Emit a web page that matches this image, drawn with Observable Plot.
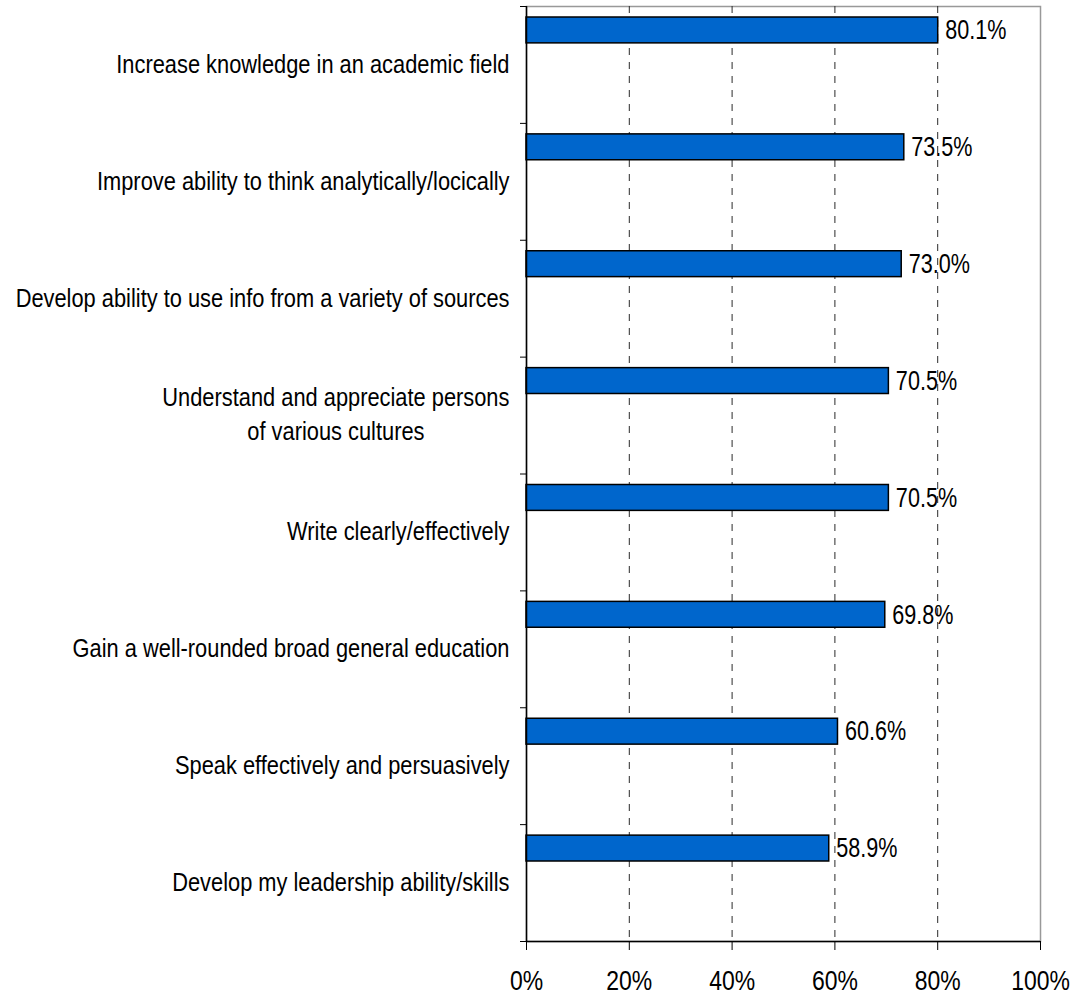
<!DOCTYPE html>
<html><head><meta charset="utf-8">
<script src="https://cdn.jsdelivr.net/npm/d3@7"></script>
<script src="https://cdn.jsdelivr.net/npm/@observablehq/plot@0.6"></script>
<style>body{margin:0;background:#fff}</style>
</head><body><div id="chart"></div>
<script>
const categories = [
  "Increase knowledge in an academic field",
  "Improve ability to think analytically/locically",
  "Develop ability to use info from a variety of sources",
  "Understand and appreciate persons\nof various cultures",
  "Write clearly/effectively",
  "Gain a well-rounded broad general education",
  "Speak effectively and persuasively",
  "Develop my leadership ability/skills"
];
const values = [80.1, 73.5, 73.0, 70.5, 70.5, 69.8, 60.6, 58.9];
const xTicks = [0, 20, 40, 60, 80, 100];
const gridTicks = [20, 40, 60, 80];

const data = categories.map((c, i) => ({category: c, value: values[i], i}));
const n = categories.length;
const font = "'Liberation Sans',Arial,sans-serif";

const chart = Plot.plot({
  width: 1074, height: 996,
  marginLeft: 526, marginRight: 34, marginTop: 6, marginBottom: 55,
  style: {fontFamily: font, background: "#fff", color: "#000"},
  x: {domain: [0, 100], label: null},
  y: {domain: [0, n], reverse: true, label: null},
  marks: [
    Plot.frame({stroke: "#999", strokeWidth: 1.5}),
    Plot.ruleX(gridTicks, {stroke: "#2a2a2a", strokeDasharray: "7,7", strokeWidth: 1}),
    Plot.rectX(data, {x1: 0, x2: "value", y1: "i", y2: d => d.i + 1, insetTop: 11, insetBottom: 80,
      fill: "#0066cc", stroke: "#000", strokeWidth: 1.5}),
    Plot.ruleX([0], {stroke: "#000", strokeWidth: 1.5}),
    Plot.ruleY([n], {stroke: "#000", strokeWidth: 1.5}),
    Plot.axisX({ticks: xTicks, tickFormat: d => d + "%", tickSize: 9, tickPadding: 20, fontSize: 28,
      stroke: "#000"}),
    Plot.axisY({ticks: d3.range(0, n + 1), tickFormat: () => "", tickSize: 6, stroke: "#000"}),
    Plot.text(data, {x: 0, y: d => d.i + 0.5, text: "category", textAnchor: "end", dx: -17, dy: -3,
      fontSize: 26, lineHeight: 1.3}),
    Plot.text(data, {x: "value", y: "i", text: d => d.value.toFixed(1) + "%", textAnchor: "start",
      dx: 7, dy: 24, fontSize: 27})
  ]
});
document.getElementById("chart").append(chart);

// Condense text horizontally (the reference uses a narrow face); center multi-line labels in their block
function condense(elements, s) {
  elements.forEach(el => {
    const tr = el.getAttribute("transform") || "";
    const tspans = el.querySelectorAll("tspan");
    let extra = "";
    if (tspans.length > 1) {
      let W = 0;
      tspans.forEach(t => { W = Math.max(W, t.getComputedTextLength()); });
      el.setAttribute("text-anchor", "middle");
      extra = ` translate(${-W / 2},0)`;
    }
    el.setAttribute("transform", `${tr} scale(${s},1)${extra}`);
  });
}
const textGroups = chart.querySelectorAll('g[aria-label="text"]');
condense(textGroups[0].querySelectorAll("text"), 0.84);
condense(textGroups[1].querySelectorAll("text"), 0.8);
condense(chart.querySelectorAll('g[aria-label="x-axis tick label"] text'), 0.82);
</script>
</body></html>
